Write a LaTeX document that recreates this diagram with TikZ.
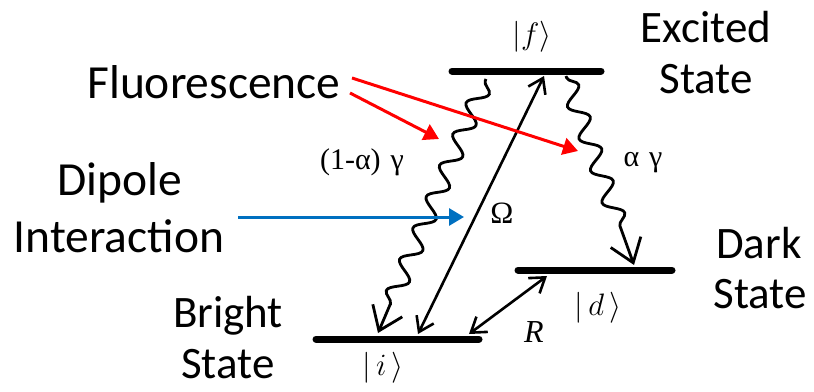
\RequirePackage{fix-cm}
\documentclass[tikz,border=0pt]{standalone}
\usepackage{fontspec}
\setmainfont{Carlito}
\newfontfamily\tms{Liberation Serif}
\usetikzlibrary{arrows.meta,decorations.pathmorphing}
\definecolor{myblue}{RGB}{0,112,192}
\begin{document}
\begin{tikzpicture}[x=1pt,y=-1pt,
  big/.style={font=\fontsize{45}{54}\selectfont, inner sep=0pt, anchor=base},
  bigger/.style={font=\fontsize{47.5}{56}\selectfont, inner sep=0pt, anchor=base},
  sym/.style={font=\fontsize{31}{36}\selectfont, inner sep=0pt},
  level/.style={line width=7pt, line cap=round},
  pump/.style={line width=2.6pt, {Straight Barb[length=14pt,width=19pt,line width=2.6pt]}-{Straight Barb[length=14pt,width=19pt,line width=2.6pt]}},
  wave/.style={line width=2.8pt, -{Straight Barb[length=22pt,width=32pt,line width=2.8pt]},
    decorate, decoration={snake, segment length=34pt, amplitude=9pt, pre length=2pt, post length=30pt}},
  pointer/.style={line width=3pt, -{Triangle[length=15pt,width=17pt]}}
]
\useasboundingbox (0,0) rectangle (814,391);
% levels
\coordinate (f1) at (452,71); \coordinate (f2) at (601,71);
\coordinate (d1) at (518,270); \coordinate (d2) at (672,270);
\coordinate (i1) at (316,339); \coordinate (i2) at (479,339);
\draw[level] (f1) -- (f2);
\draw[level] (d1) -- (d2);
\draw[level] (i1) -- (i2);
% labels
\node[sym] (lf) at (532,37) {$|f\rangle$};
\node[sym] (ld) at (598,308) {$|\,d\,\rangle$};
\node[sym] (li) at (383,368) {$|\,i\,\rangle$};
\node[sym, font=\fontsize{32}{38}\selectfont\tms\itshape] (lR) at (534,332) {R};
\node[sym, font=\fontsize{31}{36}\selectfont\tms] (lO) at (502,213) {Ω};
\node[sym, font=\fontsize{30}{36}\selectfont\tms] (la) at (362,162) {(1-α)\,\,γ};
\node[sym, font=\fontsize{30}{36}\selectfont\tms] (lb) at (643,163) {α\,\,γ};
% connectors
\coordinate (o1) at (418,334); \coordinate (o2) at (544,76);
\draw[pump] (o1) -- (o2);
\coordinate (r1) at (469,334); \coordinate (r2) at (547,276);
\draw[pump] (r1) -- (r2);
\coordinate (w1) at (486,79); \coordinate (w2) at (378,333);
\draw[wave] (w1) -- (w2);
\coordinate (v1) at (566,76); \coordinate (v2) at (634,265);
\draw[wave] (v1) -- (v2);
% text
\node[bigger] (fl) at (214,98) {Fluorescence};
\node[bigger] (dp) at (120,195) {Dipole};
\node[bigger] (ia) at (119,252) {Interaction};
\node[big] (ex) at (706,42) {Excited};
\node[big] (es) at (706,93) {State};
\node[big] (dk) at (759,258) {Dark};
\node[big] (ds) at (760,308) {State};
\node[big] (br) at (228,327) {Bright};
\node[big] (bs) at (228,378) {State};
% pointers
\coordinate (p1s) at (352,78); \coordinate (p1e) at (578,151);
\coordinate (p2s) at (350,93); \coordinate (p2e) at (439,139);
\draw[pointer, red] (p1s) -- (p1e);
\draw[pointer, red] (p2s) -- (p2e);
\coordinate (q1) at (238,217); \coordinate (q2) at (464,217);
\draw[pointer, myblue] (q1) -- (q2);
\end{tikzpicture}
\end{document}
